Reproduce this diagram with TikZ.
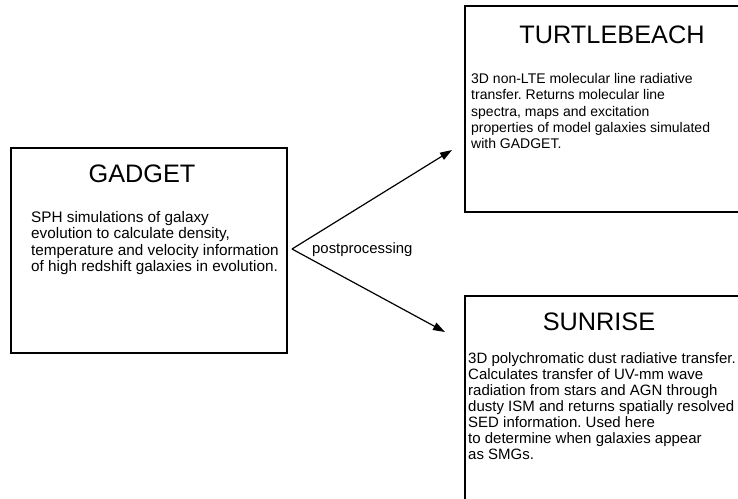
\documentclass[tikz,border=0pt]{standalone}
\usepackage{fontspec}
\setmainfont{Liberation Sans}
\usetikzlibrary{arrows.meta}
\frenchspacing
\begin{document}
\begin{tikzpicture}[x=1pt, y=-1pt,
        panel/.style={draw, line width=1.8pt, rectangle, anchor=north west, inner sep=0pt},
        title/.style={anchor=base, inner sep=0pt, font=\fontsize{25.3}{30}\selectfont},
        blurb/.style={anchor=north west, inner sep=0pt, align=left}]
        \useasboundingbox (0,0) rectangle (738,498);
        \node[panel, minimum width=276pt, minimum height=205pt] (gadget) at (10,147) {};
        \node[panel, minimum width=306pt, minimum height=206pt] (turtle) at (464,5) {};
        \node[panel, minimum width=306pt, minimum height=230pt] (sunrise) at (464,295) {};
        \node[title] (gadgettitle) at (142,182) {GADGET};
        \node[title] (turtletitle) at (612,43) {TURTLEBEACH};
        \node[title] (sunrisetitle) at (599,330) {SUNRISE};
        \node[blurb, font=\fontsize{15.3}{16.5}\selectfont] (gadgettext) at (31,211) {SPH simulations of galaxy\\evolution to calculate density,\\temperature and velocity information\\of high redshift galaxies in evolution.};
        \node[blurb, font=\fontsize{14}{16.4}\selectfont] (turtletext) at (471,73) {3D non-LTE molecular line radiative\\transfer. Returns molecular line\\spectra, maps and excitation\\properties of model galaxies simulated\\with GADGET.};
        \node[blurb, font=\fontsize{15}{16}\selectfont] (sunrisetext) at (468,352) {3D polychromatic dust radiative transfer.\\Calculates transfer of UV-mm wave\\radiation from stars and AGN through\\dusty ISM and returns spatially resolved\\SED information. Used here\\to determine when galaxies appear\\as SMGs.};
        \coordinate (split) at (292,249);
        \coordinate (turtlein) at (452,150);
        \coordinate (sunrisein) at (445,332);
        \foreach \j in {turtlein, sunrisein}
            \draw[line width=1.2pt, -{Triangle[length=12pt, width=8pt]}] (split) -- (\j);
        \node[anchor=west, inner sep=0pt, font=\fontsize{14.9}{17}\selectfont] (post) at (312,250) {postprocessing};
    \end{tikzpicture}
\end{document}
